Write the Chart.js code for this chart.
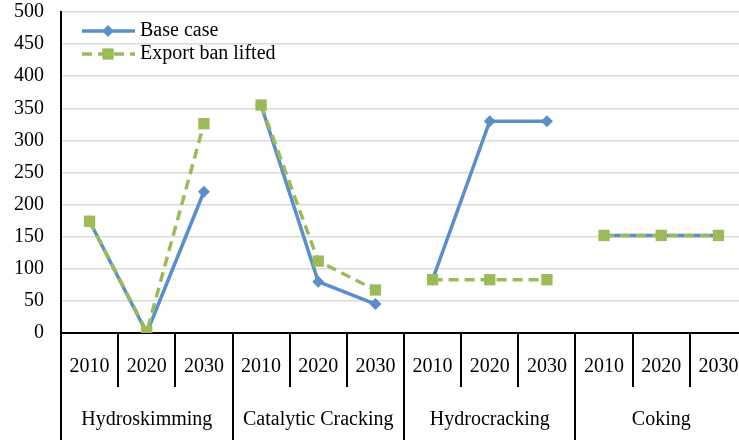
<!DOCTYPE html>
<html>
<head>
<meta charset="utf-8">
<script src="https://cdn.jsdelivr.net/npm/chart.js@4/dist/chart.umd.min.js"></script>
<style>
  body { margin: 0; background: #fff; overflow: hidden; }
  #wrap { width: 755px; height: 440px; }
</style>
</head>
<body>
<div id="wrap"><canvas id="chartCanvas"></canvas></div>
<script>
const groups = ["Hydroskimming", "Catalytic Cracking", "Hydrocracking", "Coking"];
const years = ["2010", "2020", "2030"];
const baseCase = [174, 0, 220, 355, 80, 45, 83, 330, 330, 152, 152, 152];
const exportBan = [174, 2, 326, 355, 112, 67, 83, 83, 83, 152, 152, 152];
const yTicks = [0, 50, 100, 150, 200, 250, 300, 350, 400, 450, 500];

const labels = [];
groups.forEach(g => years.forEach(y => labels.push(g + " " + y)));

const FONT = '"Liberation Serif", "Times New Roman", serif';
const BLUE = '#5a8fcb';
const GREEN = '#9bbb59';

// lines are broken between refinery groups
const breakAtGroup = c => (c.p0DataIndex % 3 === 2 ? 'rgba(0,0,0,0)' : undefined);

const axisLabels = {
  id: 'axisLabels',
  afterDraw(chart) {
    const { ctx, chartArea } = chart;
    const xs = chart.scales.x;
    const n = labels.length;
    const w = (xs.getPixelForValue(1) - xs.getPixelForValue(0));
    const bottom = chartArea.bottom;
    ctx.save();
    ctx.strokeStyle = '#000';
    ctx.lineWidth = 2;
    for (let i = 0; i < n; i++) {
      const bx = Math.round(xs.getPixelForValue(i) - w / 2);
      ctx.beginPath();
      ctx.moveTo(bx, bottom);
      ctx.lineTo(bx, i % 3 === 0 ? 440 : bottom + 54);
      ctx.stroke();
    }
    ctx.fillStyle = '#000';
    ctx.font = '20px ' + FONT;
    ctx.textAlign = 'center';
    ctx.textBaseline = 'middle';
    for (let i = 0; i < n; i++) {
      ctx.fillText(years[i % 3], xs.getPixelForValue(i), bottom + 34);
    }
    groups.forEach((g, gi) => {
      ctx.fillText(g, xs.getPixelForValue(gi * 3 + 1), bottom + 87);
    });

    // legend inside the plot
    const items = [
      { text: 'Base case', color: BLUE, dash: [], style: 'rectRot', r: 6, y: 31 },
      { text: 'Export ban lifted', color: GREEN, dash: [10, 6], style: 'rect', r: 8, y: 54 }
    ];
    items.forEach(it => {
      ctx.strokeStyle = it.color;
      ctx.lineWidth = 3.5;
      ctx.setLineDash(it.dash);
      ctx.beginPath();
      ctx.moveTo(82, it.y);
      ctx.lineTo(135, it.y);
      ctx.stroke();
      ctx.setLineDash([]);
      ctx.fillStyle = it.color;
      Chart.helpers.drawPoint(ctx, { pointStyle: it.style, radius: it.r, rotation: 0, borderWidth: 0 }, 108, it.y);
      ctx.fillStyle = '#000';
      ctx.textAlign = 'left';
      ctx.fillText(it.text, 140, it.y);
    });
    ctx.restore();
  }
};

new Chart(document.getElementById('chartCanvas'), {
  type: 'line',
  data: {
    labels: labels,
    datasets: [
      {
        label: 'Base case',
        data: baseCase,
        borderColor: BLUE,
        backgroundColor: BLUE,
        borderWidth: 3.5,
        pointStyle: 'rectRot',
        pointRadius: 6,
        pointBorderWidth: 0,
        tension: 0,
        order: 1,
        segment: { borderColor: breakAtGroup }
      },
      {
        label: 'Export ban lifted',
        data: exportBan,
        borderColor: GREEN,
        backgroundColor: GREEN,
        borderWidth: 3.5,
        borderDash: [10, 6],
        pointStyle: 'rect',
        pointRadius: 8,
        pointBorderWidth: 0,
        tension: 0,
        order: 0,
        segment: { borderColor: breakAtGroup }
      }
    ]
  },
  options: {
    responsive: true,
    maintainAspectRatio: false,
    animation: false,
    layout: { padding: 0 },
    plugins: {
      legend: { display: false },
      tooltip: { enabled: false }
    },
    scales: {
      x: {
        offset: true,
        grid: { display: false },
        border: { display: true, color: '#000', width: 2 },
        ticks: { display: false },
        afterFit: s => { s.height = 107; }
      },
      y: {
        min: 0,
        max: 500,
        afterBuildTicks: s => { s.ticks = yTicks.map(v => ({ value: v })); },
        grid: { color: '#dadada', lineWidth: 1.5, drawTicks: false },
        border: { display: true, color: '#000', width: 2 },
        ticks: { color: '#000', padding: 17, font: { family: FONT, size: 20 } },
        afterFit: s => { s.width = 61; s.paddingTop = 12; }
      }
    }
  },
  plugins: [axisLabels]
});
</script>
</body>
</html>
